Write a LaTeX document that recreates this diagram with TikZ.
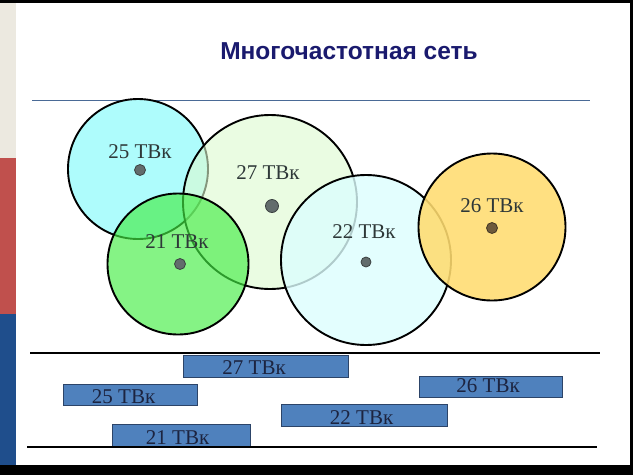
\documentclass[tikz,border=0pt]{standalone}
\usepackage{fontspec}
\setmainfont{Liberation Serif}
\newfontfamily\titlefont{Liberation Sans}
\begin{document}
\begin{tikzpicture}[x=1pt,y=-1pt,
  cell/.style={circle,draw=black,line width=1.9pt,inner sep=0pt},
  dot/.style={circle,fill=dotgray,draw=dotgray!60!black,line width=0.8pt,inner sep=0pt,minimum size=11pt},
  lab/.style={font=\fontsize{21}{21}\selectfont,text=labgray,inner sep=0pt},
  band/.style={draw=bandborder,line width=1.2pt,fill=bandfill,inner sep=0pt,anchor=north west},
  bandtxt/.style={font=\fontsize{21}{21}\selectfont,text=bandtext,inner sep=0pt},
  rule/.style={line width=1.5pt,draw=black}]
\definecolor{dotgray}{HTML}{626C6C}
\definecolor{dotbrown}{HTML}{6E5A3C}
\definecolor{labgray}{HTML}{2E3838}
\definecolor{bandfill}{HTML}{4F81BD}
\definecolor{bandborder}{HTML}{2C4468}
\definecolor{bandtext}{HTML}{1C2440}
\definecolor{titleblue}{HTML}{1A1A6E}
\definecolor{stripbeige}{HTML}{ECE9E0}
\definecolor{stripred}{HTML}{C0504D}
\definecolor{stripblue}{HTML}{1F4E8C}
\definecolor{ruleblue}{HTML}{4A6A96}
\definecolor{c25}{HTML}{AEFCFC}
\definecolor{c27}{HTML}{DDFAD0}
\definecolor{c21}{HTML}{44EE44}
\definecolor{c22}{HTML}{DCFEFE}
\definecolor{c26}{HTML}{FFDC70}
\useasboundingbox (0,0) rectangle (633,475);
\fill[white] (0,0) rectangle (633,475);
% frame strips
\fill[stripbeige] (0,0) rectangle (16,158);
\fill[stripred] (0,158) rectangle (16,314);
\fill[stripblue] (0,314) rectangle (16,466);
\fill[black] (0,0) rectangle (633,3);
\fill[black] (630,0) rectangle (633,475);
\fill[black] (0,465) rectangle (633,475);
% title
\node[font=\titlefont\bfseries\fontsize{24.5}{24.5}\selectfont,text=titleblue,inner sep=0pt] (title) at (349,51) {Многочастотная сеть};
\coordinate (rl) at (32,100);
\coordinate (rr) at (590,100);
\draw[ruleblue,line width=1pt] (rl) -- (rr);
% circles
\node[cell,fill=c25,minimum size=140pt] (k25) at (138,169) {};
\node[cell,fill=c27,fill opacity=0.6,minimum size=174pt] (k27) at (270,202) {};
\node[cell,fill=c21,fill opacity=0.65,minimum size=141pt] (k21) at (178,264) {};
\node[cell,fill=c22,fill opacity=0.8,minimum size=170pt] (k22) at (366,260) {};
\node[cell,fill=c26,fill opacity=0.88,minimum size=147pt] (k26) at (492,227) {};
% dots
\node[dot] (d25) at (140,170) {};
\node[dot,minimum size=13pt] (d27) at (272,206) {};
\node[dot] (d21) at (180,264) {};
\node[dot,minimum size=10pt] (d22) at (366,262) {};
\node[dot,fill=dotbrown,draw=dotbrown!60!black] (d26) at (492,228) {};
% labels
\node[lab] (l25) at (140,152) {25 ТВк};
\node[lab] (l27) at (268,173) {27 ТВк};
\node[lab] (l21) at (177,242) {21 ТВк};
\node[lab] (l22) at (364,232) {22 ТВк};
\node[lab] (l26) at (492,206) {26 ТВк};
% bottom spectrum
\coordinate (a1) at (30,353);
\coordinate (a2) at (600,353);
\coordinate (b1) at (27,447);
\coordinate (b2) at (597,447);
\draw[rule] (a1) -- (a2);
\node[band,minimum width=165pt,minimum height=22pt] (f27) at (183,355) {};
\node[band,minimum width=134pt,minimum height=21pt] (f25) at (63,384) {};
\node[band,minimum width=143pt,minimum height=21pt] (f26) at (419,376) {};
\node[band,minimum width=166pt,minimum height=22pt] (f22) at (281,404) {};
\node[band,minimum width=138pt,minimum height=23pt] (f21) at (112,424) {};
\draw[rule] (b1) -- (b2);
\node[bandtxt] at ([xshift=-12pt,yshift=-1pt]f27.center) {27 ТВк};
\node[bandtxt] at ([xshift=-7pt,yshift=-2pt]f25.center) {25 ТВк};
\node[bandtxt] at ([xshift=-3pt,yshift=1pt]f26.center) {26 ТВк};
\node[bandtxt] at ([xshift=-3pt,yshift=-2pt]f22.center) {22 ТВк};
\node[bandtxt] at ([xshift=-4pt,yshift=-1pt]f21.center) {21 ТВк};
\end{tikzpicture}
\end{document}
